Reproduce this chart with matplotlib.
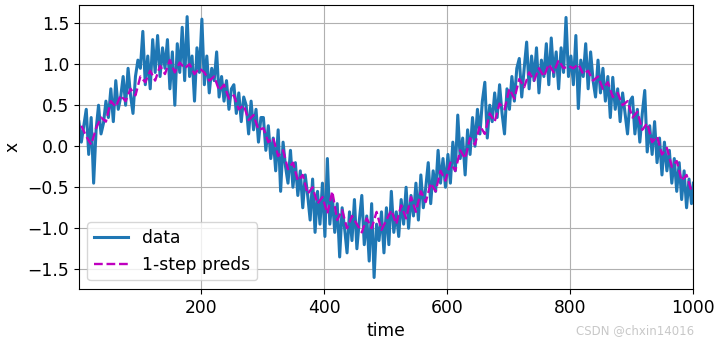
import numpy as np
import matplotlib.pyplot as plt

# time steps for the sampled data (every 4th step, last one at 1000)
time = list(range(1, 1000, 4)) + [1000]
x = [
    0.30, 0.05, 0.25, 0.45, -0.10, 0.35, -0.45, 0.20, 0.50, 0.15, 0.28, 0.55, 0.35, 0.70, 0.30, 0.80, 0.45, 0.60, 0.85, 0.50, 0.95, 0.62, 0.40, 0.85, 1.05,
    0.95, 1.40, 0.75, 1.10, 0.70, 1.30, 0.90, 1.35, 0.85, 1.20, 0.95, 1.30, 0.70, 1.15, 0.50, 1.25, 0.90, 1.45, 0.80, 1.58, 0.85, 1.10, 0.55, 1.20, 0.90,
    1.55, 0.75, 1.10, 0.65, 0.95, 0.80, 1.15, 0.60, 0.85, 0.55, 0.80, 0.45, 0.70, 0.75, 0.40, 0.65, 0.30, 0.60, 0.50, 0.15, 0.55, 0.20, 0.45, 0.05, 0.35,
    0.35, -0.05, 0.25, -0.15, 0.10, -0.30, 0.20, -0.55, 0.05, -0.25, -0.45, -0.05, -0.50, -0.20, -0.60, -0.30, -0.75, -0.35, -0.60, -0.90, -0.40, -1.05, -0.55, -0.95, -0.45,
    -1.10, -0.15, -0.95, -0.60, -1.05, -0.70, -1.35, -0.75, -1.00, -1.30, -0.80, -1.15, -0.65, -1.25, -0.90, -0.60, -1.20, -0.85, -1.40, -0.70, -1.60, -0.95, -1.15, -0.80, -1.30,
    -0.75, -1.20, -0.55, -1.05, -0.80, -1.10, -0.65, -0.95, -0.50, -1.00, -0.60, -0.85, -0.45, -0.90, -0.35, -0.75, -0.50, -0.20, -0.70, -0.30, -0.55, -0.05, -0.45, -0.15, -0.50,
    -0.10, -0.45, 0.05, -0.30, 0.38, -0.15, 0.10, -0.35, 0.20, -0.10, 0.35, 0.00, 0.45, 0.15, 0.55, 0.78, 0.10, 0.50, 0.30, 0.65, 0.35, 0.75, 0.40, 0.15, 0.70,
    0.45, 0.85, 0.55, 0.95, 1.07, 0.60, 0.95, 1.27, 0.70, 1.10, 0.80, 1.20, 0.65, 1.05, 0.85, 1.25, 0.75, 1.32, 0.85, 1.15, 0.70, 1.20, 0.90, 1.57, 0.85,
    1.10, 0.75, 1.35, 0.46, 1.05, 0.85, 1.25, 0.70, 1.15, 0.80, 0.60, 1.05, 0.65, 0.95, 0.55, 0.85, 0.35, 0.84, 0.45, 0.70, 0.30, 0.65, 0.40, 0.15, 0.55,
    0.60, 0.15, 0.45, 0.05, 0.40, 0.68, -0.07, 0.25, -0.10, 0.30, -0.20, 0.10, -0.35, 0.05, -0.30, -0.05, -0.45, -0.15, -0.55, -0.20, -0.65, -0.30, -0.75, -0.40, -0.70,
    -0.45,
]

# 1-step predictions (every 8th step from 5)
pred_time = list(range(5, 1000, 8))
preds = [
    0.25, 0.12, 0.02, 0.22, 0.35, 0.30, 0.55, 0.48, 0.62, 0.55, 0.70, 0.62, 0.85, 0.78, 0.92, 0.80, 0.98, 0.88, 1.05, 0.90, 1.02, 0.95, 1.00, 0.88, 0.95,
    0.90, 0.80, 0.85, 0.68, 0.75, 0.58, 0.62, 0.45, 0.50, 0.32, 0.38, 0.20, 0.22, 0.05, 0.10, -0.12, -0.05, -0.28, -0.20, -0.42, -0.35, -0.58, -0.50, -0.70, -0.62,
    -0.82, -0.55, -0.90, -0.78, -1.00, -0.85, -0.95, -1.05, -0.88, -1.00, -0.80, -1.02, -0.90, -0.78, -0.95, -0.72, -0.88, -0.62, -0.80, -0.55, -0.68, -0.45, -0.55, -0.30, -0.42,
    -0.20, -0.30, -0.05, -0.15, 0.10, 0.02, 0.25, 0.15, 0.40, 0.30, 0.52, 0.45, 0.70, 0.58, 0.82, 0.72, 0.90, 0.80, 0.95, 0.85, 1.00, 0.90, 1.05, 0.95, 0.98,
    0.95, 1.00, 0.88, 0.92, 0.80, 0.85, 0.70, 0.78, 0.60, 0.65, 0.50, 0.55, 0.35, 0.42, 0.20, 0.28, 0.05, 0.12, -0.10, -0.02, -0.25, -0.18, -0.42, -0.35, -0.55,
]

plt.rcParams['font.size'] = 12.3
fig = plt.figure(figsize=(7.17, 3.44), dpi=100)
ax = fig.add_axes([0.110, 0.160, 0.857, 0.825])
ax.plot(time, x, color='#1f77b4', lw=2.2, label='data')
ax.plot(pred_time, preds, 'm--', lw=1.7, label='1-step preds')
ax.set_xlim(1, 1000)
ax.set_ylim(-1.74, 1.72)
ax.set_xlabel('time')
ax.set_ylabel('x')
ax.grid(True)
ax.legend(loc='lower left')
fig.text(0.968, 0.02, 'CSDN @chxin14016', ha='right', va='bottom', fontsize=8.5, color='#c8c8c8')
fig.savefig('out.png', dpi=100)
